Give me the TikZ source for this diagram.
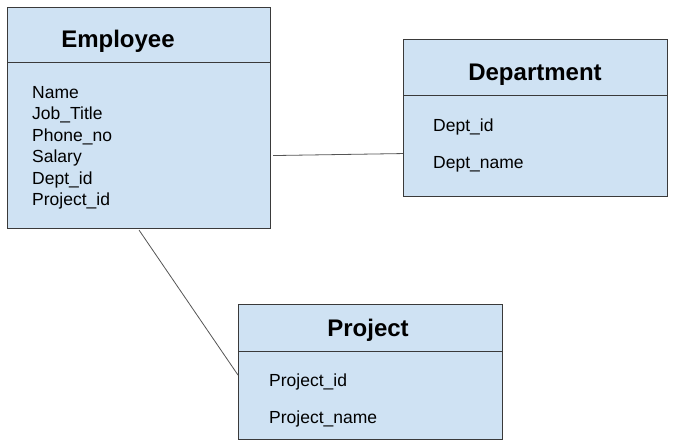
\documentclass[tikz,border=0pt]{standalone}
\usepackage{fontspec}
\setmainfont{Liberation Sans}
\definecolor{boxfill}{HTML}{CFE2F3}
\definecolor{boxline}{HTML}{3A3A3A}
\definecolor{linkline}{HTML}{555555}
\begin{document}
\begin{tikzpicture}[x=1pt,y=-1pt,
  entity/.style={draw=boxline,line width=1.1pt,fill=boxfill,anchor=north west,inner sep=0pt},
  divider/.style={draw=boxline,line width=0.9pt},
  title/.style={font=\fontsize{24}{28}\selectfont\bfseries,inner sep=0pt,anchor=base},
  attr/.style={font=\fontsize{17.5}{21}\selectfont,inner sep=0pt,anchor=base west},
  link/.style={draw=linkline,line width=0.8pt}]
\useasboundingbox (0,0) rectangle (689,447);
% Employee
\node[entity,minimum width=263pt,minimum height=221pt] (emp) at (7,7) {};
\draw[divider] (emp.west |- 0,62) -- (emp.east |- 0,62);
\node[title] (empt) at (118,47.7) {Employee};
\node[attr] (e1) at (32,98) {Name};
\node[attr] (e2) at (32,119.5) {Job\_Title};
\node[attr] (e3) at (32,141) {Phone\_no};
\node[attr] (e4) at (32,162.5) {Salary};
\node[attr] (e5) at (32,184) {Dept\_id};
\node[attr] (e6) at (32,205.5) {Project\_id};
% Department
\node[entity,minimum width=264pt,minimum height=157pt] (dep) at (403,39) {};
\draw[divider] (dep.west |- 0,95.5) -- (dep.east |- 0,95.5);
\node[title] (dept) at (535,80.7) {Department};
\node[attr] (d1) at (433,131) {Dept\_id};
\node[attr] (d2) at (433,168) {Dept\_name};
% Project
\node[entity,minimum width=264pt,minimum height=135pt] (proj) at (238,304) {};
\draw[divider] (proj.west |- 0,351.5) -- (proj.east |- 0,351.5);
\node[title] (projt) at (368,336) {Project};
\node[attr] (p1) at (269,386) {Project\_id};
\node[attr] (p2) at (269,423) {Project\_name};
% links
\draw[link] ([xshift=2pt,yshift=-37.5pt]emp.east) -- ([yshift=-35.5pt]dep.west);
\draw[link] ([yshift=-1pt]emp.south) -- ([yshift=-3pt]proj.west);
\end{tikzpicture}
\end{document}
